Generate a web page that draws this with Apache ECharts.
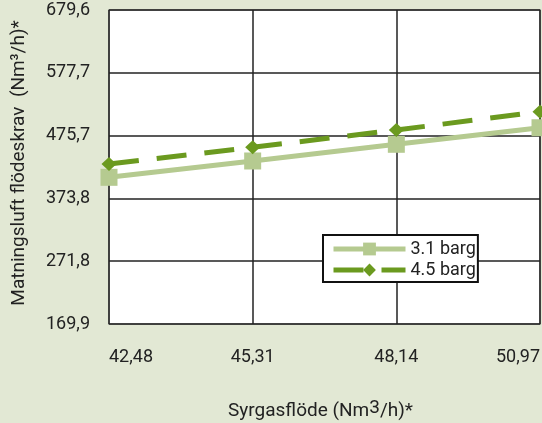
<!DOCTYPE html>
<html><head><meta charset="utf-8">
<script src="https://cdn.jsdelivr.net/npm/echarts@6/dist/echarts.min.js"></script>
<style>html,body{margin:0;padding:0;background:#e2e8d4;}#c{width:542px;height:423px;}</style>
</head><body><div id="c"></div>
<script>
const categories = ['42,48', '45,31', '48,14', '50,97'];
const series31 = [408.0, 434.5, 461.6, 488.5];
const series45 = [429.6, 456.7, 484.8, 514.5];
const yTicks = [169.9, 271.8, 373.8, 475.7, 577.7, 679.6];
const yTickLabels = ['169,9', '271,8', '373,8', '475,7', '577,7', '679,6'];

const chart = echarts.init(document.getElementById('c'));
const font = 'Roboto';
chart.setOption({
  backgroundColor: '#e2e8d4',
  animation: false,
  grid: { left: 109, right: 2, top: 10, bottom: 99, containLabel: false, outerBoundsMode: 'none',
    show: true, backgroundColor: '#ffffff', borderColor: '#808080', borderWidth: 1.5 },
  legend: {
    left: 323, top: 235, orient: 'vertical',
    padding: [5, 2, 3, 8], itemGap: 3,
    backgroundColor: '#ffffff', borderColor: '#111', borderWidth: 2, borderRadius: 0,
    itemWidth: 72, itemHeight: 16,
    lineStyle: { width: 5 },
    textStyle: { fontFamily: font, fontSize: 18, color: '#222' },
    data: ['3.1 barg', '4.5 barg']
  },
  xAxis: {
    type: 'category', data: categories, boundaryGap: false,
    axisLine: { show: false }, axisTick: { show: false },
    splitLine: { show: true, lineStyle: { color: '#222', width: 1.5 } },
    axisLabel: { fontFamily: font, fontSize: 18, color: '#222', margin: 24, alignMinLabel: 'left', alignMaxLabel: 'right' },
    name: 'Syrgasflöde (Nm{s|3}/h)*', nameLocation: 'middle', nameGap: 75,
    nameTextStyle: { fontFamily: font, fontSize: 19, color: '#222', padding: [0, 8, 0, 0],
      rich: { s: { fontFamily: font, fontSize: 19, color: '#222', verticalAlign: 'bottom', padding: [0, 0, 6, 0] } } }
  },
  yAxis: {
    type: 'value', min: yTicks[0], max: yTicks[yTicks.length - 1],
    axisLine: { show: false },
    axisTick: { show: false, customValues: yTicks },
    splitLine: { show: true, lineStyle: { color: '#222', width: 1.5 } },
    axisLabel: { customValues: yTicks, fontFamily: font, fontSize: 18, color: '#222', margin: 19,
      formatter: v => { const i = yTicks.findIndex(t => Math.abs(t - v) < 0.01); return i >= 0 ? yTickLabels[i] : ''; } },
    name: 'Matningsluft flödeskrav  (Nm³/h)*', nameLocation: 'middle', nameGap: 80,
    nameTextStyle: { fontFamily: font, fontSize: 19, color: '#222', padding: [0, 0, 0, 8] }
  },
  series: [
    { name: '3.1 barg', type: 'line', data: series31, symbol: 'rect', symbolSize: 17,
      itemStyle: { color: '#b5ca90' }, lineStyle: { color: '#b5ca90', width: 5 }, z: 2 },
    { name: '4.5 barg', type: 'line', data: series45, symbol: 'diamond', symbolSize: [15, 14],
      itemStyle: { color: '#6b9a1f' }, lineStyle: { color: '#6b9a1f', width: 5, type: [30, 18] }, z: 3 }
  ]
});
</script></body></html>
